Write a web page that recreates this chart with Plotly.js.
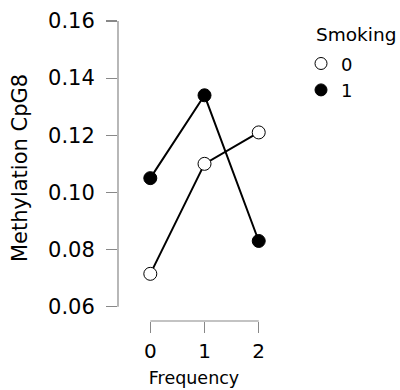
<!DOCTYPE html>
<html>
<head>
<meta charset="utf-8">
<script src="https://cdn.plot.ly/plotly-3.0.1.min.js"></script>
<style>html,body{margin:0;padding:0;background:#fff}#chart{width:400px;height:390px}</style>
</head>
<body>
<div id="chart"></div>
<script>
const frequency = [0, 1, 2];
const smoking0 = [0.0715, 0.110, 0.121];
const smoking1 = [0.105, 0.134, 0.083];
const groupLabels = ["0", "1"];
const legendTitle = "Smoking";
const yTicks = [0.06, 0.08, 0.10, 0.12, 0.14, 0.16];
const xTicks = [0, 1, 2];

const font = "DejaVu Sans, sans-serif";
const traces = [
  {x: frequency, y: smoking0, mode: "lines+markers", showlegend: false,
   line: {color: "#000", width: 2},
   marker: {symbol: "circle", size: 13, color: "#fff", line: {color: "#000", width: 1}}},
  {x: frequency, y: smoking1, mode: "lines+markers", showlegend: false,
   line: {color: "#000", width: 2},
   marker: {symbol: "circle", size: 13, color: "#000", line: {color: "#000", width: 1}}},
  {x: [null], y: [null], mode: "markers", name: groupLabels[0],
   marker: {symbol: "circle", size: 12, color: "#fff", line: {color: "#000", width: 1}}},
  {x: [null], y: [null], mode: "markers", name: groupLabels[1],
   marker: {symbol: "circle", size: 12, color: "#000", line: {color: "#000", width: 1}}}
];

const layout = {
  width: 400, height: 390,
  margin: {l: 118, r: 130, t: 15, b: 69, autoexpand: false},
  paper_bgcolor: "#fff", plot_bgcolor: "#fff",
  font: {family: font, color: "#000"},
  xaxis: {range: [-0.596, 2.208], tickvals: xTicks, ticktext: xTicks.map(String),
    showgrid: false, zeroline: false, showline: false, automargin: false,
    ticks: "outside", ticklen: 11, tickcolor: "#888", tickwidth: 1.2,
    tickfont: {size: 20}, ticklabelstandoff: 1,
    title: {text: "Frequency", font: {size: 17.5}, standoff: 9}},
  yaxis: {range: [0.05499, 0.1621], tickvals: yTicks, ticktext: yTicks.map(v => v.toFixed(2)),
    showgrid: false, zeroline: false, showline: false, automargin: false,
    ticks: "outside", ticklen: 11, tickcolor: "#888", tickwidth: 1.2,
    tickfont: {size: 21}, ticklabelstandoff: 7,
    title: {text: "Methylation CpG8", font: {size: 21}, standoff: 14}},
  shapes: [
    {type: "line", xref: "paper", yref: "y", x0: 0, x1: 0, y0: yTicks[0], y1: yTicks[yTicks.length-1],
     line: {color: "#888", width: 1.2}},
    {type: "line", xref: "x", yref: "paper", x0: xTicks[0], x1: xTicks[xTicks.length-1], y0: 0, y1: 0,
     line: {color: "#888", width: 1.2}}
  ],
  annotations: [
    {text: legendTitle, xref: "paper", yref: "paper", x: 1.289, y: 0.935,
     xanchor: "left", yanchor: "middle", showarrow: false, font: {size: 18.5}}
  ],
  legend: {x: 1.204, xanchor: "left", y: 0.901, yanchor: "top",
    font: {size: 18}, bgcolor: "rgba(0,0,0,0)", itemwidth: 30}
};

Plotly.newPlot("chart", traces, layout, {displayModeBar: false, staticPlot: true});
</script>
</body>
</html>
